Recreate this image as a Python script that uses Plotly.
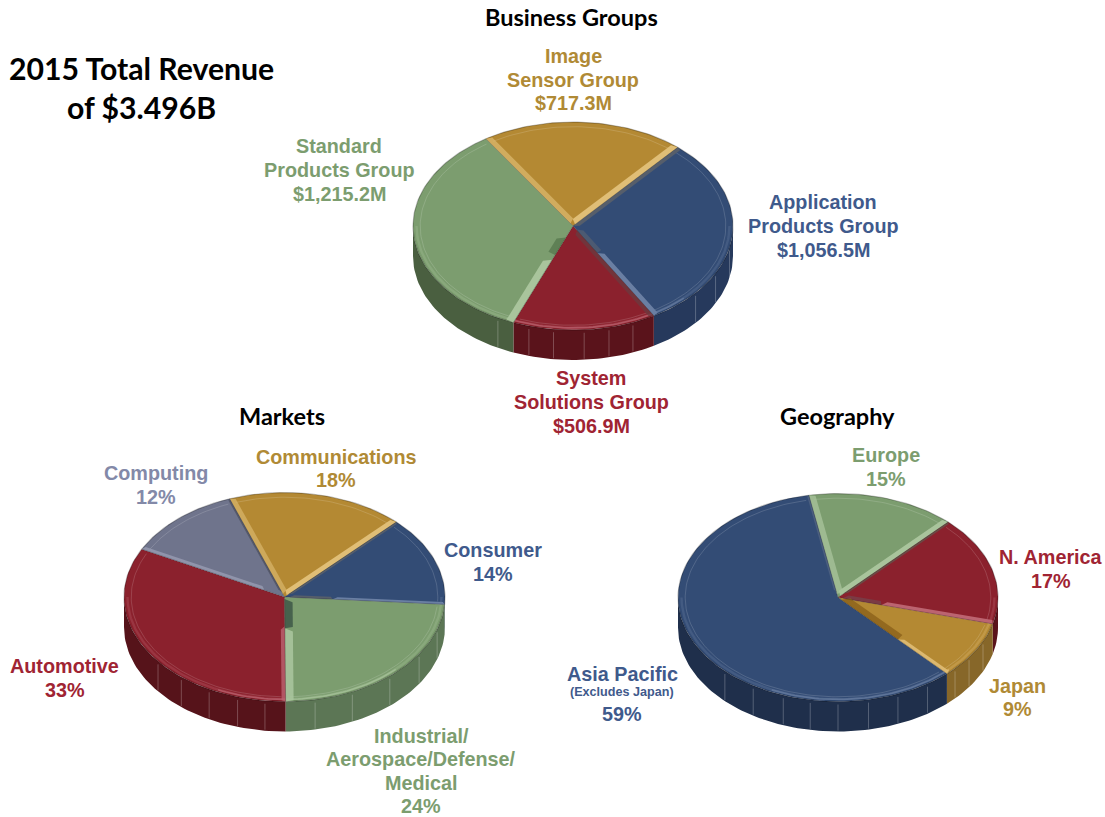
import math
import plotly.graph_objects as go

# ---------- data ----------
business_names = ["Image Sensor Group", "Application Products Group", "System Solutions Group", "Standard Products Group"]
business_values = [717.3, 1056.5, 506.9, 1215.2]
market_names = ["Communications", "Consumer", "Industrial/Aerospace/Defense/Medical", "Automotive", "Computing"]
market_values = [18, 14, 24, 33, 12]
geo_names = ["Europe", "N. America", "Japan", "Asia Pacific"]
geo_values = [15, 17, 9, 59]

# ---------- palette ----------
C = {"blue": "#334C75", "gold": "#B48933", "green": "#7C9D6F", "red": "#8B212D", "gray": "#6F748C"}
LIGHT = {"blue": "#6A7FA3", "gold": "#E0BE76", "green": "#A9C49C", "red": "#BC6470", "gray": "#9398AE"}
TXT = {"blue": "#3F5A8C", "gold": "#B08A35", "green": "#7C9D6F", "red": "#A02433", "gray": "#8389A8"}


def rgba(h, a):
    return f"rgba({int(h[1:3],16)},{int(h[3:5],16)},{int(h[5:7],16)},{a})"


# stripes: (slice, edge, width, r0, r1, colour or None for the light tint, opacity)
pies = [
    dict(values=business_values, names=business_names, cx=573, cy=226, rx=160, ry=104, depth=30, start=-33,
         colors=["gold", "blue", "red", "green"],
         walls=["#876729", "#26395C", "#5A131B", "#4A5F40"],
         stripes=[(1, "s", .03, 0, 1, "#565E6B", 1), (0, "s", .04, .03, 1, None, .65), (0, "e", .045, .02, 1, None, 1),
                  (1, "e", .035, .3, 1, None, 1), (1, "e", .035, .04, .3, "#4C5A72", 1),
                  (3, "s", .05, .35, 1, None, 1), (3, "s", .05, .12, .3, "#5F8055", 1),
                  (2, "s", .03, .05, 1, "#6B3A3E", .8)],
         marks=[102, 117, 130, 158, 167, 176, 187, 196, 208]),
    dict(values=market_values, names=market_names, cx=284.5, cy=597, rx=160.5, ry=104.5, depth=30, start=-20,
         colors=["gold", "blue", "green", "red", "gray"],
         walls=["#876729", "#26395C", "#5C7655", "#56131A", "#4A4E63"],
         stripes=[(0, "s", .035, .03, 1, None, .6), (0, "e", .04, .02, 1, None, 1),
                  (1, "s", .015, .03, 1, "#565E6B", 1),
                  (1, "e", .022, .3, 1, None, 1), (1, "e", .022, .03, .3, "#565E6B", 1),
                  (2, "e", .05, .3, 1, None, .9), (2, "e", .05, .02, .3, "#47624D", 1),
                  (3, "s", .025, .28, 1, None, .8), (4, "s", .03, .14, 1, None, .9),
                  (4, "e", .012, .05, 1, "#55596B", 1)],
         marks=[108, 123, 139, 155, 169, 187, 197, 208, 220, 232]),
    dict(values=geo_values, names=geo_names, cx=838, cy=597.5, rx=160, ry=104, depth=30, start=-10.5,
         colors=["green", "red", "gold", "blue"],
         walls=["#4A5F40", "#5A131B", "#876729", "#1F2F4B"],
         stripes=[(0, "s", .04, .03, 1, None, .75), (0, "e", .04, .02, 1, None, 1),
                  (1, "s", .015, .05, 1, "#6B4A45", 1),
                  (1, "e", .035, .28, 1, None, 1), (1, "e", .035, .03, .28, "#7B3A44", 1),
                  (2, "e", .028, .55, 1, None, .9), (2, "e", .05, .03, .55, "#93691F", 1),
                  (3, "e", .012, .05, 1, "#4B5F80", 1)],
         marks=[115, 125, 133, 146, 158, 169, 180, 190, 200, 212, 225]),
]

fig = go.Figure()


def add(xs, ys, fill=None, line=None, width=0, dash=None):
    kw = dict(x=xs, y=ys, mode="lines", hoverinfo="skip", showlegend=False)
    if fill:
        kw.update(fill="toself", fillcolor=fill)
    if width:
        kw["line"] = dict(color=line, width=width, dash=dash or "solid")
    else:
        kw["line"] = dict(width=0, color="rgba(0,0,0,0)")
    fig.add_trace(go.Scatter(**kw))


def drange(a, b, step=1.5):
    n = max(2, int(abs(b - a) / step) + 1)
    return [a + (b - a) * i / (n - 1) for i in range(n)]


for p in pies:
    total = sum(p["values"])
    ang = [p["start"]]
    for v in p["values"]:
        ang.append(ang[-1] + 360 * v / total)
    cx, cy, rx, ry, d = p["cx"], p["cy"], p["rx"], p["ry"], p["depth"]

    def pt(a, r=1.0, off=0.0):
        t = math.radians(a)
        ux = r * math.sin(t) + off * math.cos(t)
        uy = r * math.cos(t) - off * math.sin(t)
        return cx + rx * ux, cy - ry * uy

    # side walls (front half only)
    for i in range(len(p["values"])):
        a0, a1 = ang[i], ang[i + 1]
        for shift in (0, 360):
            lo, hi = max(a0 + shift, 90), min(a1 + shift, 270)
            if hi > lo:
                top = [pt(a) for a in drange(lo, hi)]
                xs = [q[0] for q in top] + [q[0] for q in reversed(top)]
                ys = [q[1] for q in top] + [q[1] + d for q in reversed(top)]
                add(xs, ys, fill=p["walls"][i])
                for m in p["marks"]:
                    if lo < m < hi:
                        q = pt(m)
                        add([q[0], q[0]], [q[1] + 3, q[1] + d - 1], line="rgba(255,255,255,0.3)", width=0.8)

    # top faces
    for i, key in enumerate(p["colors"]):
        a0, a1 = ang[i], ang[i + 1]
        arc = [pt(a) for a in drange(a0, a1)]
        xs = [cx] + [q[0] for q in arc] + [cx]
        ys = [cy] + [q[1] for q in arc] + [cy]
        add(xs, ys, fill=C[key])
        add([q[0] for q in arc], [q[1] for q in arc], line="rgba(0,0,0,0.25)", width=1.2)
        # bevel highlight on the front edge: soft on the flanks, stronger at the front
        for shift in (0, 360):
            lo, hi = max(a0 + shift, 90), min(a1 + shift, 270)
            if hi > lo:
                h = [pt(a, .978) for a in drange(lo, hi)]
                add([q[0] for q in h], [q[1] for q in h], line=rgba(LIGHT[key], .3), width=2.4)
            lo, hi = max(a0 + shift, 135), min(a1 + shift, 205)
            if hi > lo:
                h = [pt(a, .98) for a in drange(lo, hi)]
                add([q[0] for q in h], [q[1] for q in h], line=rgba(LIGHT[key], .7), width=1.6)
        # thin inner line
        inner = [pt(a, .955) for a in drange(a0 + 1.5, a1 - 1.5)]
        add([q[0] for q in inner], [q[1] for q in inner], line="rgba(255,255,255,0.25)", width=0.6)

    # radial bevel stripes
    for idx, side, w, r0, r1, col, op in p["stripes"]:
        key = p["colors"][idx]
        a = ang[idx] if side == "s" else ang[idx + 1]
        o = w if side == "s" else -w
        q = [pt(a, r0), pt(a, r1), pt(a, r1 - .012, o), pt(a, r0 + .03, o)]
        add([c[0] for c in q] + [q[0][0]], [c[1] for c in q] + [q[0][1]], fill=rgba(col or LIGHT[key], op))

    # joins between slices
    for a in ang[:-1]:
        q = pt(a)
        add([cx, q[0]], [cy, q[1]], line="rgba(30,30,30,0.28)", width=1)

# ---------- labels ----------
SANS = "Liberation Sans"
HEAD = "Lato"
labels = [
    (573, 79.5, "Image<br>Sensor Group<br>$717.3M", "gold", 19.8),
    (823, 226, "Application<br>Products Group<br>$1,056.5M", "blue", 19.8),
    (591, 402, "System<br>Solutions Group<br>$506.9M", "red", 19.8),
    (339, 170, "Standard<br>Products Group<br>$1,215.2M", "green", 19.8),
    (336, 468.5, "Communications<br>18%", "gold", 19.8),
    (493, 562, "Consumer<br>14%", "blue", 19.8),
    (421, 771, "Industrial/<br>Aerospace/Defense/<br>Medical<br>24%", "green", 19.8),
    (64.5, 678, "Automotive<br>33%", "red", 19.8),
    (156, 485, "Computing<br>12%", "gray", 19.8),
    (886, 467, "Europe<br>15%", "green", 19.8),
    (1050.5, 569, "N. America<br>17%", "red", 19.8),
    (1017, 697.5, "Japan<br>9%", "gold", 19.8),
    (622, 674, "Asia Pacific", "blue", 19.8),
    (622, 692, "(Excludes Japan)", "blue", 12.6),
    (622, 714, "59%", "blue", 19.8),
]
heads = [
    (571.5, 17, "Business Groups", 23.5),
    (282, 416, "Markets", 23.5),
    (837, 416, "Geography", 23.5),
    (141, 87.5, "2015 Total Revenue<br>of $3.496B", 30.2),
]


def put(x, y, text, size, color, family, spacing):
    lines = text.split("<br>")
    y0 = y - (len(lines) - 1) * spacing / 2
    for i, line in enumerate(lines):
        fig.add_annotation(x=x, y=y0 + i * spacing, xref="x", yref="y", text=f"<b>{line}</b>", showarrow=False,
                           xanchor="center", yanchor="middle", align="center",
                           font=dict(family=family, size=size, color=color))


for x, y, text, key, size in labels:
    put(x, y, text, size, TXT[key], SANS, 23.6)
for x, y, text, size in heads:
    put(x, y, text, size, "#000000", HEAD, 39)

fig.update_layout(
    width=1105, height=817, margin=dict(l=0, r=0, t=0, b=0),
    paper_bgcolor="white", plot_bgcolor="white", showlegend=False,
    xaxis=dict(range=[0, 1105], visible=False, fixedrange=True),
    yaxis=dict(range=[817, 0], visible=False, fixedrange=True),
)
fig.write_html("out.html", config={"displayModeBar": False},
               post_script="document.body.style.margin='0';document.body.style.overflow='hidden';")
